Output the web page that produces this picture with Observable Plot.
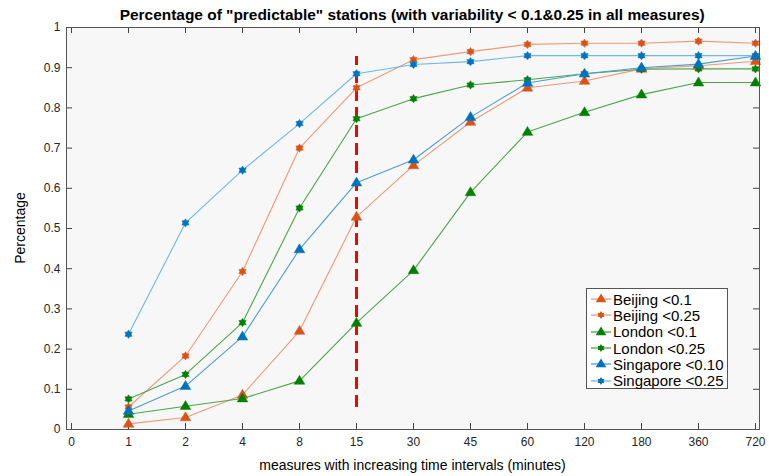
<!DOCTYPE html>
<html>
<head>
<meta charset="utf-8">
<script src="https://cdn.jsdelivr.net/npm/d3@7"></script>
<script src="https://cdn.jsdelivr.net/npm/@observablehq/plot@0.6"></script>
<style>
  body { margin: 0; background: #fff; font-family: "Liberation Sans", Arial, sans-serif; }
  #wrap { position: relative; width: 769px; height: 476px; }
  #title { position: absolute; top: 6px; left: 66px; width: 693px; text-align: center; font-weight: bold; font-size: 14px; line-height: 18px; color: #000; white-space: nowrap; }
  #title span { display: inline-block; transform-origin: center; }
  #xlabel { position: absolute; top: 456px; left: 66px; width: 693px; text-align: center; font-size: 14px; line-height: 18px; color: #000; }
  #ylabel { position: absolute; left: 20px; top: 228px; font-size: 14px; line-height: 18px; color: #000; transform: translate(-50%, -50%) rotate(-90deg); white-space: nowrap; }
  #legend { position: absolute; left: 586px; top: 288px; width: 142px; height: 101px; background: #fff; border: 1px solid #555; box-sizing: border-box; padding-top: 2px; }
  .item { display: flex; align-items: center; height: 16.3px; font-size: 15px; color: #000; white-space: nowrap; }
  .item svg { margin-left: 3px; margin-right: 1px; }
</style>
</head>
<body>
<div id="wrap">
  <div id="chart"></div>
  <div id="title"><span id="tspan">Percentage of "predictable" stations (with variability &lt; 0.1&amp;0.25 in all measures)</span></div>
  <div id="xlabel">measures with increasing time intervals (minutes)</div>
  <div id="ylabel">Percentage</div>
  <div id="legend"></div>
</div>
<script>
const xLabels = ["0","1","2","4","8","15","30","45","60","120","180","360","720"];
const dataX = ["1","2","4","8","15","30","45","60","120","180","360","720"];

const beijing010 = [0.014,0.030,0.086,0.245,0.529,0.657,0.765,0.850,0.867,0.897,0.905,0.916];
const beijing025 = [0.056,0.183,0.393,0.700,0.850,0.920,0.940,0.958,0.961,0.961,0.966,0.961];
const london010  = [0.038,0.058,0.077,0.121,0.265,0.396,0.590,0.740,0.789,0.833,0.863,0.863];
const london025  = [0.076,0.137,0.266,0.551,0.773,0.823,0.857,0.870,0.885,0.896,0.897,0.897];
const singapore010 = [0.046,0.108,0.231,0.448,0.614,0.671,0.777,0.862,0.885,0.900,0.909,0.929];
const singapore025 = [0.237,0.514,0.645,0.761,0.885,0.908,0.915,0.930,0.930,0.930,0.930,0.930];

const seriesNames = ["Beijing <0.1","Beijing <0.25","London <0.1","London <0.25","Singapore <0.10","Singapore <0.25"];
const seriesValues = [beijing010, beijing025, london010, london025, singapore010, singapore025];
const lineColors = ["#ec9a77","#ec9a77","#4aa64a","#4aa64a","#4d9bd6","#6db8e6"];
const markColors = ["#d95319","#d95319","#008000","#008000","#0072bd","#0072bd"];
const markShapes = ["tri","hex","tri","hex","tri","hex"];

const cutX = "15";
const cutY = [0.055, 0.928];

const yTicks = d3.range(0, 11).map(i => i / 10);

const hexagram = {
  draw(ctx, size) {
    const R = Math.sqrt(size) * 0.62, r = R * 0.62;
    for (let i = 0; i < 12; i++) {
      const a = Math.PI / 6 * i - Math.PI / 2;
      const rr = i % 2 === 0 ? R : r;
      const px = rr * Math.cos(a), py = rr * Math.sin(a);
      if (i === 0) ctx.moveTo(px, py); else ctx.lineTo(px, py);
    }
    ctx.closePath();
  }
};
const triangle = {
  draw(ctx, size) {
    const s = Math.sqrt(size) * 0.75;
    ctx.moveTo(0, -s);
    ctx.lineTo(s * 0.95, s * 0.6);
    ctx.lineTo(-s * 0.95, s * 0.6);
    ctx.closePath();
  }
};

const rows = [];
seriesNames.forEach((name, si) => {
  seriesValues[si].forEach((v, i) => rows.push({series: name, si, x: dataX[i], y: v}));
});

const W = 769, H = 476, mt = 27, mb = 47, ml = 66, mr = 10;
const innerH = H - mt - mb, innerW = W - ml - mr;

const marks = [
  Plot.frame({fill: "#f7f7f7", stroke: null}),
  Plot.tickX(xLabels, {x: d => d, stroke: "#444", insetTop: innerH - 6}),
  Plot.tickX(xLabels, {x: d => d, stroke: "#444", insetBottom: innerH - 6}),
  Plot.tickY(yTicks, {y: d => d, stroke: "#444", insetRight: innerW - 6}),
  Plot.tickY(yTicks, {y: d => d, stroke: "#444", insetLeft: innerW - 6}),
];
seriesNames.forEach((name, si) => {
  const d = rows.filter(r => r.si === si);
  marks.push(Plot.line(d, {x: "x", y: "y", stroke: lineColors[si], strokeWidth: 1.1}));
});
marks.push(Plot.ruleX([cutX], {x: d => d, y1: cutY[0], y2: cutY[1], stroke: "#ff0000", strokeWidth: 3, strokeDasharray: "12,6"}));
seriesNames.forEach((name, si) => {
  const d = rows.filter(r => r.si === si);
  const isTri = markShapes[si] === "tri";
  marks.push(Plot.dot(d, {x: "x", y: "y", symbol: isTri ? triangle : hexagram, r: isTri ? 4.2 : 3.8, fill: markColors[si], stroke: markColors[si], strokeWidth: 0.5}));
});
marks.push(Plot.frame({stroke: "#555"}));

const chart = Plot.plot({
  width: W, height: H,
  marginTop: mt, marginBottom: mb, marginLeft: ml, marginRight: mr,
  style: {fontFamily: "'Liberation Sans', Arial, sans-serif", fontSize: "12px", color: "#262626", background: "transparent", overflow: "visible"},
  x: {type: "point", domain: xLabels, padding: 0, label: null, tickSize: 0, tickPadding: 8},
  y: {domain: [0, 1], ticks: yTicks, tickFormat: d => d3.format("")(+d.toFixed(1)), label: null, tickSize: 0, tickPadding: 6},
  marks
});
document.getElementById("chart").appendChild(chart);

const ts = document.getElementById("tspan");
const tw = ts.getBoundingClientRect().width;
ts.style.transform = `scaleX(${585 / tw})`;

const leg = document.getElementById("legend");
seriesNames.forEach((name, si) => {
  const item = document.createElement("div");
  item.className = "item";
  const svg = d3.create("svg").attr("width", 22).attr("height", 14);
  svg.append("line").attr("x1", 1).attr("x2", 21).attr("y1", 7).attr("y2", 7).attr("stroke", lineColors[si]).attr("stroke-width", 1.3);
  const sym = markShapes[si] === "tri" ? triangle : hexagram;
  const sz = markShapes[si] === "tri" ? 4.2 : 3.6;
  svg.append("path").attr("transform", "translate(11,7)").attr("d", d3.symbol(sym, sz * sz * Math.PI)()).attr("fill", markColors[si]);
  item.appendChild(svg.node());
  const t = document.createElement("span");
  t.textContent = name;
  item.appendChild(t);
  leg.appendChild(item);
});
</script>
</body>
</html>
